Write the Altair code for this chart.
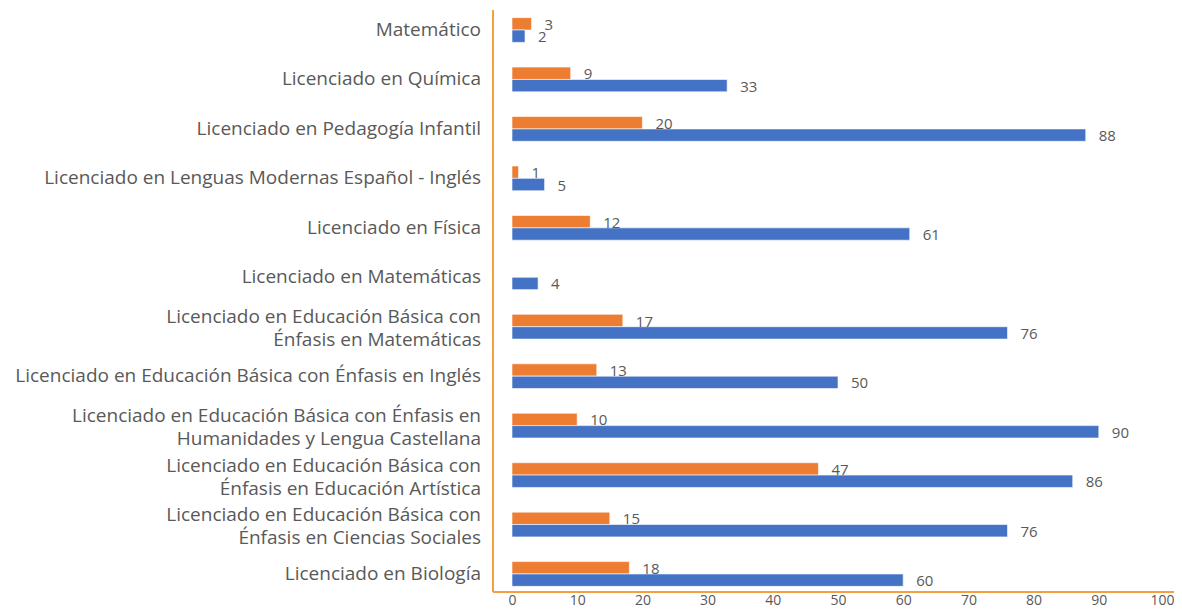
import altair as alt
import pandas as pd

categories = [
    "Matemático",
    "Licenciado en Química",
    "Licenciado en Pedagogía Infantil",
    "Licenciado en Lenguas Modernas Español - Inglés",
    "Licenciado en Física",
    "Licenciado en Matemáticas",
    "Licenciado en Educación Básica con\nÉnfasis en Matemáticas",
    "Licenciado en Educación Básica con Énfasis en Inglés",
    "Licenciado en Educación Básica con Énfasis en\nHumanidades y Lengua Castellana",
    "Licenciado en Educación Básica con\nÉnfasis en Educación Artística",
    "Licenciado en Educación Básica con\nÉnfasis en Ciencias Sociales",
    "Licenciado en Biología",
]
serie_naranja = [3, 9, 20, 1, 12, None, 17, 13, 10, 47, 15, 18]
serie_azul = [2, 33, 88, 5, 61, 4, 76, 50, 90, 86, 76, 60]
series = ["Serie 1", "Serie 2"]
x_ticks = [0, 10, 20, 30, 40, 50, 60, 70, 80, 90, 100]

ORANGE = "#ED7D31"
BLUE = "#4472C4"
FRAME = "#F5A040"
TEXT = "#595959"
FONT = "Open Sans"

rows = []
for c, o, b in zip(categories, serie_naranja, serie_azul):
    if o is not None:
        rows.append({"categoria": c, "serie": series[0], "valor": o})
    if b is not None:
        rows.append({"categoria": c, "serie": series[1], "valor": b})
df = pd.DataFrame(rows)
cat_df = pd.DataFrame({"categoria": categories})
cat_df["multi"] = cat_df["categoria"].str.contains("\n")

W, H = 652, 584

y_enc = alt.Y(
    "categoria:N",
    sort=categories,
    scale=alt.Scale(paddingInner=0.5, paddingOuter=0.155, align=0.63),
    axis=None,
)
yoff_enc = alt.YOffset("serie:N", sort=series, scale=alt.Scale(paddingInner=0, paddingOuter=0))
x_enc = alt.X(
    "valor:Q",
    scale=alt.Scale(domain=[0, 100], nice=False, zero=True),
    axis=alt.Axis(
        values=x_ticks, domain=False, ticks=False, grid=False, labelFlush=False,
        labelFontSize=14, labelColor=TEXT, labelPadding=1, labelFont=FONT, title=None,
        labelOffset={"condition": {"test": "datum.value == 100", "value": -2}, "value": 0},
    ),
)

bars = alt.Chart(df).mark_bar(stroke="white", strokeWidth=0.6).encode(
    x=x_enc,
    y=y_enc,
    yOffset=yoff_enc,
    color=alt.Color("serie:N", scale=alt.Scale(domain=series, range=[ORANGE, BLUE]), legend=None),
)

values = alt.Chart(df).mark_text(
    align="left", baseline="middle", dx=13, dy=1, fontSize=15, color=TEXT, font=FONT
).encode(
    x="valor:Q",
    y=alt.Y("categoria:N", sort=categories),
    yOffset=alt.YOffset("serie:N", sort=series),
    text="valor:Q",
)

label_style = dict(align="right", baseline="middle", fontSize=19, color=TEXT, font=FONT,
                   lineBreak="\n", lineHeight=23)

cat_single = alt.Chart(cat_df).transform_filter("!datum.multi").mark_text(**label_style).encode(
    y=alt.Y("categoria:N", sort=categories),
    x=alt.value(-31),
    text="categoria:N",
)
cat_multi = alt.Chart(cat_df).transform_filter("datum.multi").mark_text(dy=-9.5, **label_style).encode(
    y=alt.Y("categoria:N", sort=categories),
    x=alt.value(-31),
    text="categoria:N",
)

one = pd.DataFrame({"a": [0]})
left_line = alt.Chart(one).mark_rule(color=FRAME, strokeWidth=2).encode(
    x=alt.value(-19), y=alt.value(2), y2=alt.value(H)
)
bottom_line = alt.Chart(one).mark_rule(color=FRAME, strokeWidth=2).encode(
    x=alt.value(-19), x2=alt.value(670), y=alt.value(H)
)

chart = alt.layer(bars, values, cat_single, cat_multi, left_line, bottom_line).properties(
    width=W,
    height=H,
    autosize="none",
    padding={"left": 504, "top": 0, "right": 10, "bottom": 16},
).configure_view(stroke=None)

chart.save("out.html", embed_options={"renderer": "svg", "actions": False})
